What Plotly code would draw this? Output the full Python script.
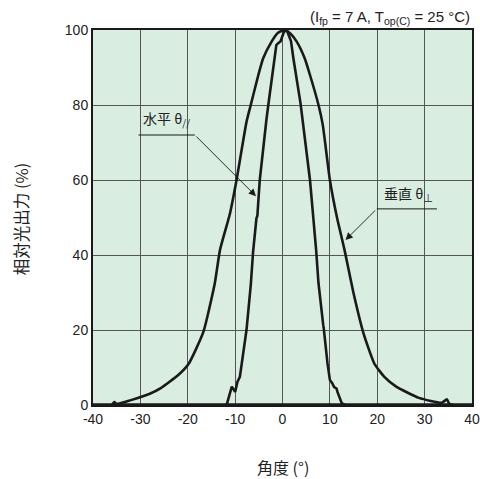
import plotly.graph_objects as go

# Vertical (垂直 θ⊥) — wide curve
vert_angle = [-36, -35.5, -35, -32, -28, -25.7, -22, -19.8, -16.7, -14.3, -13.2, -11.1, -9.7,
              -7.6, -6.7, -5.1, -4.1, -2.3, -1.0, 0.5, 1.7, 3.0, 4.7, 5.8, 7.6, 8.5, 10, 11.5,
              13.1, 15.0, 17.1, 19.4, 21.5, 24, 28.8, 33.6, 34.7, 35.2, 36]
vert_value = [0, 0.8, 0.3, 1.3, 3, 4.5, 8, 11, 19.5, 32.4, 41.3, 51, 60,
              75.5, 80, 88, 92.4, 96.9, 99.2, 100, 99.0, 96.9, 92.4, 88, 80, 74.7, 60, 50,
              41.3, 29.8, 19.1, 11, 7.5, 4.9, 1.9, 0.6, 1.5, 0.3, 0]

# Horizontal (水平 θ//) — narrow curve
horz_angle = [-11.8, -10.7, -10.0, -9.5, -9.0, -8.6, -7.6, -6.7, -6.2, -5.5, -5.3, -4.8, -4.1,
              -3.9, -3.4, -3.0, -2.5, -2.3, -1.6, -1.3, -0.9, -0.4, 0.3, 0.9, 1.8, 2.3, 3.8,
              3.9, 4.3, 5.4, 5.5, 5.8, 7.1, 7.6, 8.6, 8.7, 9.5, 10.0, 10.5, 10.9, 11.4, 11.6,
              12.5, 13.2]
horz_value = [0, 4.9, 3.5, 6.2, 7.5, 11, 20, 32, 41, 49.8, 50.5, 60, 68.9,
              69.5, 76, 80, 85, 86, 92.4, 96, 96.5, 97, 99.5, 100, 97, 92.4, 80.5,
              79.5, 75, 65.3, 64, 60, 41.3, 32.4, 21.3, 20.5, 11.1, 6.7, 5.8, 4.8, 4.4, 3.5,
              0.5, 0]

x_ticks = [-40, -30, -20, -10, 0, 10, 20, 30, 40]
y_ticks = [0, 20, 40, 60, 80, 100]

FONT = "Liberation Sans, Arial, Noto Sans CJK JP, sans-serif"
CJK = "Noto Sans CJK JP, Liberation Sans, sans-serif"
INK = "#1a1a1a"

fig = go.Figure()
fig.add_trace(go.Scatter(x=vert_angle, y=vert_value, mode="lines",
                         line=dict(color=INK, width=2.6, shape="spline", smoothing=0.5),
                         showlegend=False))
fig.add_trace(go.Scatter(x=horz_angle, y=horz_value, mode="lines",
                         line=dict(color=INK, width=2.6), showlegend=False))

fig.update_layout(
    width=480, height=479,
    margin=dict(l=93, r=8, t=30, b=74),
    paper_bgcolor="white",
    plot_bgcolor="#d9ede1",
    font=dict(family=FONT, size=14, color="#222"),
    xaxis=dict(range=[-40, 40], tickvals=x_ticks, ticktext=[str(v) for v in x_ticks],
               showgrid=True, gridcolor="#555", gridwidth=1, zeroline=False, automargin=False,
               showline=True, linecolor=INK, linewidth=2, mirror=True, ticks=""),
    yaxis=dict(range=[0, 100], tickvals=y_ticks, ticktext=[str(v) for v in y_ticks],
               showgrid=True, gridcolor="#555", gridwidth=1, zeroline=False, automargin=False,
               showline=True, linecolor=INK, linewidth=2, mirror=True, ticks=""),
)

# thicker bottom axis
fig.add_shape(type="line", xref="paper", yref="paper", x0=0, x1=1, y0=0, y1=0,
              line=dict(color=INK, width=3.5))

# axis titles
fig.add_annotation(text="相対光出力 (%)", xref="paper", yref="paper", x=-0.190, y=0.498,
                   xanchor="center", yanchor="middle",
                   textangle=-90, showarrow=False, font=dict(family=CJK, size=16.5, color="#222"))
fig.add_annotation(text="角度 (°)", xref="paper", yref="paper", x=0.501, y=-0.165,
                   xanchor="center", yanchor="middle",
                   showarrow=False, font=dict(family=CJK, size=16, color="#222"))

# condition note
fig.add_annotation(text="(I<sub>fp</sub> = 7 A, T<sub>op(C)</sub> = 25 °C)", xref="paper", yref="paper",
                   x=1.0, y=1.0, xanchor="right", yanchor="bottom", yshift=1,
                   showarrow=False, font=dict(family=FONT, size=15, color="#222"))

# 水平 label
fig.add_annotation(text="水平 θ<sub>//</sub>", x=-24.4, y=76.2, showarrow=False,
                   xanchor="center", yanchor="middle",
                   font=dict(family=CJK, size=14, color="#222"))
fig.add_shape(type="line", x0=-30.4, x1=-18.5, y0=72, y1=72, line=dict(color=INK, width=1))
fig.add_annotation(x=-5.6, y=55.7, ax=-18.5, ay=72, axref="x", ayref="y", text="",
                   showarrow=True, arrowhead=2, arrowsize=1.6, arrowwidth=0.9, arrowcolor=INK,
                   standoff=0, startstandoff=0)

# 垂直 label
fig.add_annotation(text="垂直 θ<sub>⊥</sub>", x=26.6, y=56.3, showarrow=False,
                   xanchor="center", yanchor="middle",
                   font=dict(family=CJK, size=14, color="#222"))
fig.add_shape(type="line", x0=19.9, x1=32.6, y0=52.3, y1=52.3, line=dict(color=INK, width=1))
fig.add_annotation(x=13.3, y=44.0, ax=19.9, ay=52.3, axref="x", ayref="y", text="",
                   showarrow=True, arrowhead=2, arrowsize=1.6, arrowwidth=0.9, arrowcolor=INK,
                   standoff=0, startstandoff=0)

fig.write_html("out.html", config={"displayModeBar": False},
               post_script="document.body.style.margin='0';window.dispatchEvent(new Event('resize'));")
